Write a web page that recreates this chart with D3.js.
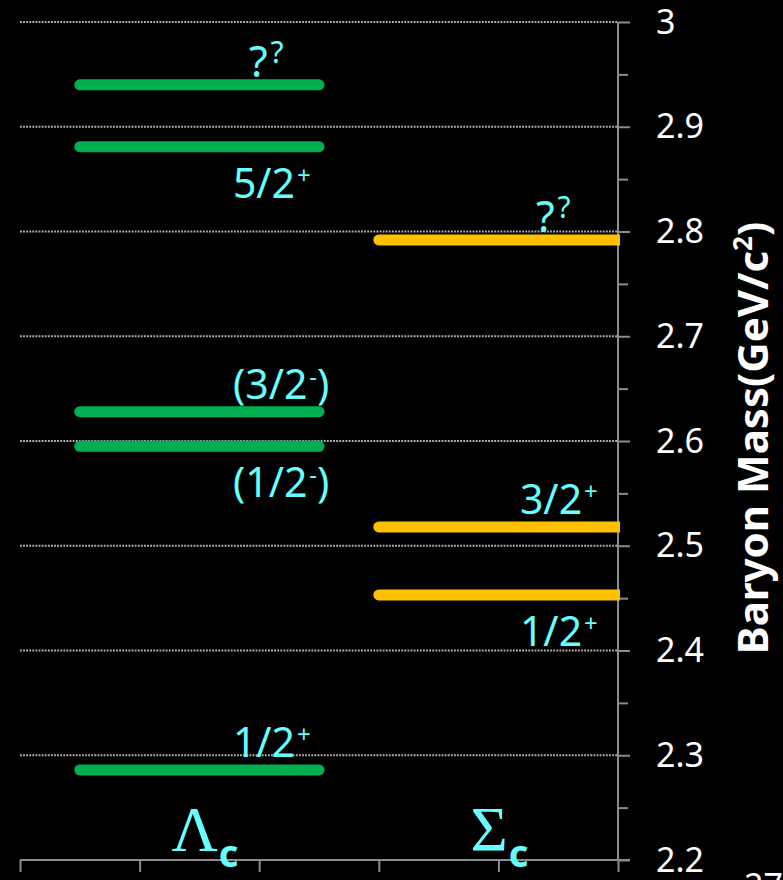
<!DOCTYPE html>
<html>
<head>
<meta charset="utf-8">
<script src="https://cdn.jsdelivr.net/npm/d3@7"></script>
<style>
  html, body { margin: 0; padding: 0; background: #000; }
  svg { display: block; }
</style>
</head>
<body>
<script>
// ---------- DATA ----------
const massTicks = [2.2, 2.3, 2.4, 2.5, 2.6, 2.7, 2.8, 2.9, 3.0];
const minorTicks = [2.25, 2.35, 2.45, 2.55, 2.65, 2.75, 2.85, 2.95];
const categories = ["Λ", "Σ"];
const categorySub = ["c", "c"];

const lambdaMass  = [2.286, 2.595, 2.628, 2.881, 2.940];
const lambdaPre   = ["1/2", "(1/2", "(3/2", "5/2", "?"];
const lambdaSup   = ["+", "-", "-", "+", "?"];
const lambdaPost  = ["", ")", ")", "", ""];
const lambdaSide  = ["above", "below", "above", "below", "above"];

const sigmaMass   = [2.453, 2.518, 2.792];
const sigmaPre    = ["1/2", "3/2", "?"];
const sigmaSup    = ["+", "+", "?"];
const sigmaPost   = ["", "", ""];
const sigmaSide   = ["below", "above", "above"];

const axisTitle = "Baryon Mass(GeV/c";
const pageNumber = "27";

// ---------- LAYOUT ----------
const W = 783, H = 880;
const svg = d3.select("body").append("svg").attr("width", W).attr("height", H)
  .style("background", "#000");

const y = d3.scaleLinear().domain([2.2, 3.0]).range([860, 22]);
const x = d3.scaleLinear().domain([0, 5]).range([20, 618]);

const AXIS = "#8c8c8c";
const LABEL = "#66ffff";
const SANS = "'Noto Sans', 'Open Sans', sans-serif";

// gridlines
svg.append("g").selectAll("line").data(massTicks.filter(d => d > 2.2)).join("line")
  .attr("x1", x(0)).attr("x2", x(5))
  .attr("y1", d => y(d)).attr("y2", d => y(d))
  .attr("stroke", "#b4b4b4").attr("stroke-width", 1.8)
  .attr("stroke-dasharray", "1.8,1.3");

// y axis (right side, ticks outward)
const yAxis = d3.axisRight(y).tickValues(massTicks).tickSize(12)
  .tickFormat(d3.format("~g")).tickPadding(26);
const gy = svg.append("g").attr("transform", `translate(${x(5)},0)`).call(yAxis);
gy.select(".domain").attr("stroke", AXIS).attr("stroke-width", 2)
  .attr("d", `M0,${y(3.0)}V${y(2.2)}`);
gy.selectAll(".tick line").attr("stroke", AXIS).attr("stroke-width", 2);
gy.selectAll(".tick text").attr("fill", "#fff")
  .style("font-family", SANS).style("font-size", "34px").attr("dy", "0.33em");
svg.append("g").attr("transform", `translate(${x(5)},0)`)
  .call(d3.axisRight(y).tickValues(minorTicks).tickSize(10).tickFormat(""))
  .call(g => g.select(".domain").remove())
  .selectAll(".tick line").attr("stroke", AXIS).attr("stroke-width", 2);

// x axis (bottom)
const xAxis = d3.axisBottom(x).tickValues([0, 1, 2, 3, 4, 5]).tickSize(12).tickFormat("");
const gx = svg.append("g").attr("transform", `translate(0,${y(2.2)})`).call(xAxis);
gx.select(".domain").attr("stroke", AXIS).attr("stroke-width", 2)
  .attr("d", `M${x(0)},0H${x(5) + 12}`);
gx.selectAll(".tick line").attr("stroke", AXIS).attr("stroke-width", 2);

// clip so the orange bars end at the axis
svg.append("clipPath").attr("id", "clipR").append("rect")
  .attr("x", 0).attr("y", 0).attr("width", x(5) + 2).attr("height", H);

function drawSeries(mass, pre, sup, post, side, x0, x1, color, labelX, clip) {
  const g = svg.append("g");
  if (clip) g.attr("clip-path", "url(#clipR)");
  g.selectAll("line").data(mass).join("line")
    .attr("x1", x(x0)).attr("x2", x(x1))
    .attr("y1", d => y(d)).attr("y2", d => y(d))
    .attr("stroke", color).attr("stroke-width", 11)
    .attr("stroke-linecap", "round");

  const lg = svg.append("g");
  mass.forEach((m, i) => {
    const isQ = pre[i] === "?";
    const by = side[i] === "above" ? y(m) - (isQ ? 8 : 13) : y(m) + 51;
    const t = lg.append("text")
      .attr("x", x(labelX) + (isQ ? 16 : 0)).attr("y", by)
      .attr("fill", LABEL).style("font-family", SANS).style("font-size", "41px");
    t.append("tspan").text(pre[i]).style("font-size", isQ ? "43px" : "41px");
    t.append("tspan").text(sup[i])
      .attr("dy", isQ ? -14 : -14)
      .style("font-size", isQ ? "30px" : "24px")
      .attr("dx", isQ ? 3 : 2);
    if (post[i]) t.append("tspan").text(post[i]).attr("dy", 14).style("font-size", "41px");
  });
}

drawSeries(lambdaMass, lambdaPre, lambdaSup, lambdaPost, lambdaSide, 0.5, 2.5, "#00b050", 1.78, false);
drawSeries(sigmaMass, sigmaPre, sigmaSup, sigmaPost, sigmaSide, 3.0, 5.05, "#ffc000", 4.18, true);

// category labels (Λc, Σc)
const catCenters = [1.5, 4.0];
categories.forEach((c, i) => {
  const t = svg.append("text")
    .attr("x", x(catCenters[i]) - 28).attr("y", 851)
    .attr("fill", LABEL);
  t.append("tspan").text(c)
    .style("font-family", "'Liberation Serif', 'DejaVu Serif', serif").style("font-size", "64px");
  t.append("tspan").text(categorySub[i]).attr("dy", 16).attr("dx", 1)
    .style("font-family", SANS).style("font-weight", "bold").style("font-size", "38px");
});

// axis title
const title = svg.append("text")
  .attr("transform", `translate(768,438) rotate(-90)`)
  .attr("text-anchor", "middle")
  .attr("fill", "#fff")
  .style("font-family", SANS).style("font-weight", "bold").style("font-size", "42px");
title.append("tspan").text(axisTitle);
title.append("tspan").text("2").attr("dy", -16).style("font-size", "26px");
title.append("tspan").text(")").attr("dy", 16);

// page number (partly off-page)
svg.append("text").attr("x", 744).attr("y", 898).attr("fill", "#fff")
  .style("font-family", SANS).style("font-size", "34px").text(pageNumber);
</script>
</body>
</html>
